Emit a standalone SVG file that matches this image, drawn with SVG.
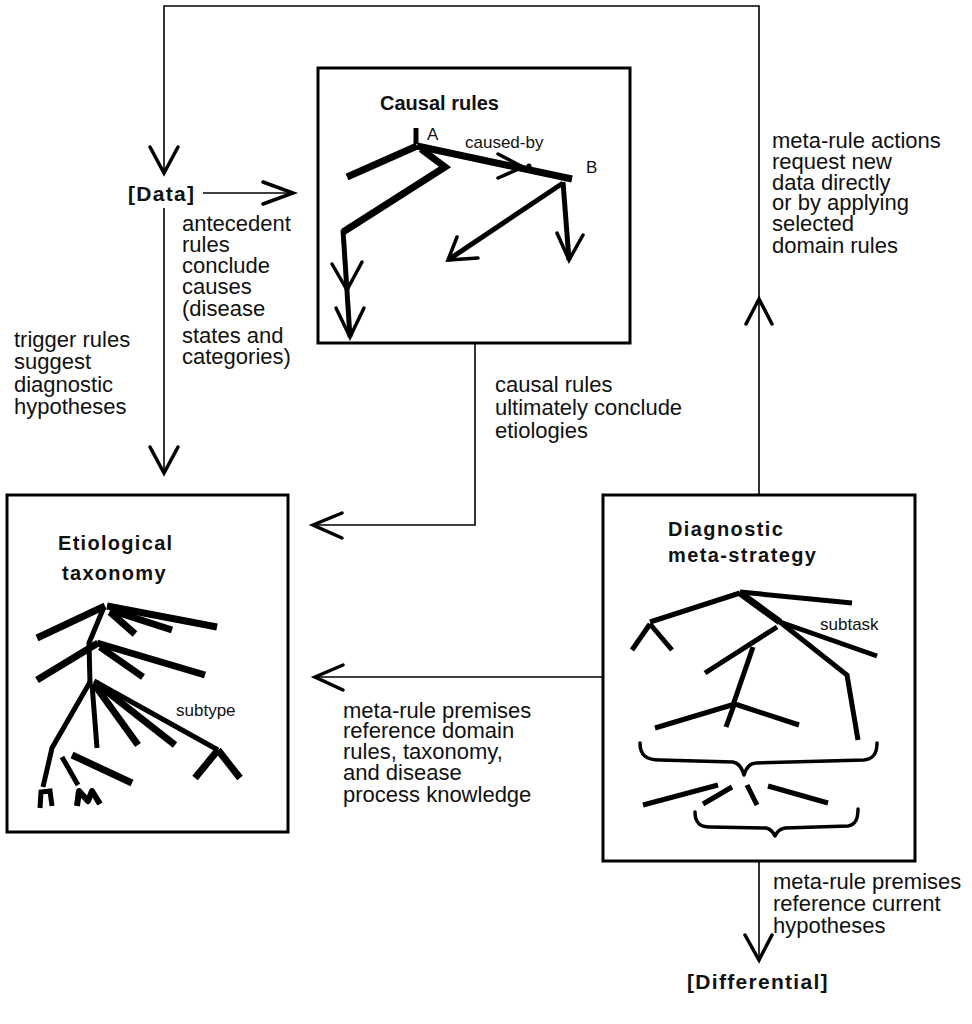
<svg xmlns="http://www.w3.org/2000/svg" width="972" height="1024" viewBox="0 0 972 1024">
<defs>
<style>
.box{fill:none;stroke:#000;stroke-width:3}
.ln{fill:none;stroke:#000;stroke-width:1.6}
.ah{fill:none;stroke:#000;stroke-width:3.5;stroke-linecap:round;stroke-linejoin:miter}
.tk{fill:none;stroke:#000;stroke-width:7;stroke-linecap:butt;stroke-linejoin:miter}
.md{fill:none;stroke:#000;stroke-width:5;stroke-linecap:butt;stroke-linejoin:miter}
.br{fill:none;stroke:#000;stroke-width:3.5;stroke-linecap:round;stroke-linejoin:round}
.t{font-family:"Liberation Sans",Arial,Helvetica,sans-serif;font-size:22px;fill:#111}
.ti{font-family:"Liberation Sans",Arial,Helvetica,sans-serif;font-size:20px;font-weight:bold;fill:#111}
.sm{font-family:"Liberation Sans",Arial,Helvetica,sans-serif;font-size:17px;fill:#111}
.lb{font-family:"Liberation Sans",Arial,Helvetica,sans-serif;font-size:21px;font-weight:bold;letter-spacing:1.3px;fill:#111}
</style>
</defs>
<rect width="972" height="1024" fill="#fff"/>

<g id="connectors">
  <path class="ln" d="M759,495 L759,6 L164,6 L164,173"/>
  <path class="ah" d="M150,147 L164,173 L178,147"/>
  <path class="ah" d="M746,324 L759,299 L772,324"/>
  <path class="ln" d="M203,193 L293,193"/>
  <path class="ah" d="M263,182 L293,193 L263,204"/>
  <path class="ln" d="M164,208 L164,473"/>
  <path class="ah" d="M150,447 L164,473 L178,447"/>
  <path class="ln" d="M475,343 L475,525 L313,525"/>
  <path class="ah" d="M342,513 L313,525 L342,538"/>
  <path class="ln" d="M603,677 L315,677"/>
  <path class="ah" d="M343,665 L315,677 L343,690"/>
  <path class="ln" d="M759,861 L759,960"/>
  <path class="ah" d="M745,935 L759,960 L772,935"/>
</g>

<g id="data">
  <text class="lb" x="128" y="201">[Data]</text>
</g>

<g id="differential">
  <text class="lb" x="687" y="989">[Differential]</text>
</g>

<g id="causal-rules">
  <rect class="box" x="318" y="68" width="312" height="275"/>
  <text class="ti" x="380" y="110">Causal rules</text>
  <path class="md" d="M416,128 L416,144"/>
  <path class="tk" d="M417,146 L347,177"/>
  <path class="tk" d="M421,149 L445,167 L343,232"/>
  <path class="md" d="M343,230 L350,337"/>
  <path class="ah" d="M332,264 L347,290 L362,262"/>
  <path class="ah" d="M336,308 L350,337 L364,308"/>
  <path class="tk" d="M417,146 L572,179"/>
  <path class="ah" d="M498,154 L523,167 L498,178"/>
  <circle cx="529" cy="166" r="2.5" fill="#000"/>
  <path class="md" d="M563,182 L569,260"/>
  <path class="ah" d="M557,233 L569,260 L583,235"/>
  <path class="md" d="M563,183 L448,260"/>
  <path class="ah" d="M457,237 L448,260 L478,258"/>
  <text class="sm" x="427" y="140" font-size="15">A</text>
  <text class="sm" x="465" y="148">caused-by</text>
  <text class="sm" x="586" y="173" font-size="15">B</text>
</g>

<g id="etiological-taxonomy">
  <rect class="box" x="7" y="495" width="281" height="337"/>
  <text class="ti" x="58" y="550" letter-spacing="1.3">Etiological</text>
  <text class="ti" x="62" y="580" letter-spacing="1.3">taxonomy</text>
  <path class="tk" d="M105,606 L37,638"/>
  <path class="tk" d="M107,606 L217,627"/>
  <path class="tk" d="M110,610 L172,630"/>
  <path class="tk" d="M110,612 L135,634"/>
  <path class="md" d="M104,607 L89,643 L90,684"/>
  <path class="tk" d="M98,643 L37,680"/>
  <path class="tk" d="M97,643 L205,675"/>
  <path class="tk" d="M100,647 L143,677"/>
  <path class="md" d="M90,682 L52,748 L43,787"/>
  <path class="md" d="M92,684 L97,748"/>
  <path class="tk" d="M94,684 L138,745"/>
  <path class="tk" d="M96,683 L175,745"/>
  <path class="md" d="M94,681 L218,750"/>
  <path class="tk" d="M218,750 L195,778"/>
  <path class="tk" d="M218,750 L240,778"/>
  <path class="md" d="M62,757 L78,785"/>
  <path class="tk" d="M72,755 L132,783"/>
  <path d="M40,808 L41,792 L50,791 L52,806" fill="none" stroke="#000" stroke-width="5"/>
  <path d="M77,806 L79,791 L88,801 L92,791 L100,804" fill="none" stroke="#000" stroke-width="6" stroke-linejoin="round"/>
  <text class="sm" x="176" y="716">subtype</text>
</g>

<g id="diagnostic-meta-strategy">
  <rect class="box" x="603" y="495" width="312" height="366"/>
  <text class="ti" x="668" y="536" letter-spacing="1.4">Diagnostic</text>
  <text class="ti" x="668" y="562" letter-spacing="1.4">meta-strategy</text>
  <path class="md" d="M740,593 L650,622"/>
  <path class="md" d="M650,624 L632,650"/>
  <path class="md" d="M650,624 L672,650"/>
  <path class="md" d="M740,592 L852,603"/>
  <path class="tk" d="M740,593 L780,622"/>
  <path class="md" d="M780,622 L877,656"/>
  <path class="md" d="M780,622 L847,675 L858,740"/>
  <path class="md" d="M777,627 L705,673"/>
  <path class="md" d="M753,647 L733,705"/>
  <path class="md" d="M735,704 L655,728"/>
  <path class="md" d="M735,704 L799,725"/>
  <path class="md" d="M734,705 L726,727"/>
  <path class="br" d="M640,743 C640,755 646,760 660,760 L733,762 C739,763 742,768 744,775 C746,768 749,763 756,763 L864,760 C873,759 877,754 877,743"/>
  <path class="md" d="M643,805 L718,785"/>
  <path class="md" d="M703,804 L732,787"/>
  <path class="md" d="M747,785 L757,805"/>
  <path class="md" d="M768,786 L828,803"/>
  <path class="br" d="M695,812 C695,822 699,827 710,827 L766,828 C771,829 773,832 775,836 C777,832 779,829 785,828 L848,826 C855,825 858,820 858,809"/>
  <text class="sm" x="820" y="630">subtask</text>
</g>

<g id="labels">
  <text class="t" x="182" y="231">antecedent</text>
  <text class="t" x="182" y="252">rules</text>
  <text class="t" x="182" y="273">conclude</text>
  <text class="t" x="182" y="294">causes</text>
  <text class="t" x="182" y="316">(disease</text>
  <text class="t" x="182" y="343">states and</text>
  <text class="t" x="182" y="364">categories)</text>

  <text class="t" x="14" y="347">trigger rules</text>
  <text class="t" x="14" y="369">suggest</text>
  <text class="t" x="14" y="392">diagnostic</text>
  <text class="t" x="14" y="414">hypotheses</text>

  <text class="t" x="495" y="392">causal rules</text>
  <text class="t" x="495" y="415">ultimately conclude</text>
  <text class="t" x="495" y="438">etiologies</text>

  <text class="t" x="772" y="148">meta-rule actions</text>
  <text class="t" x="772" y="169">request new</text>
  <text class="t" x="772" y="190">data directly</text>
  <text class="t" x="772" y="210">or by applying</text>
  <text class="t" x="772" y="231">selected</text>
  <text class="t" x="772" y="253">domain rules</text>

  <text class="t" x="343" y="718">meta-rule premises</text>
  <text class="t" x="343" y="738">reference domain</text>
  <text class="t" x="343" y="759">rules, taxonomy,</text>
  <text class="t" x="343" y="780">and disease</text>
  <text class="t" x="343" y="802">process knowledge</text>

  <text class="t" x="773" y="889">meta-rule premises</text>
  <text class="t" x="773" y="911">reference current</text>
  <text class="t" x="773" y="933">hypotheses</text>
</g>
</svg>
